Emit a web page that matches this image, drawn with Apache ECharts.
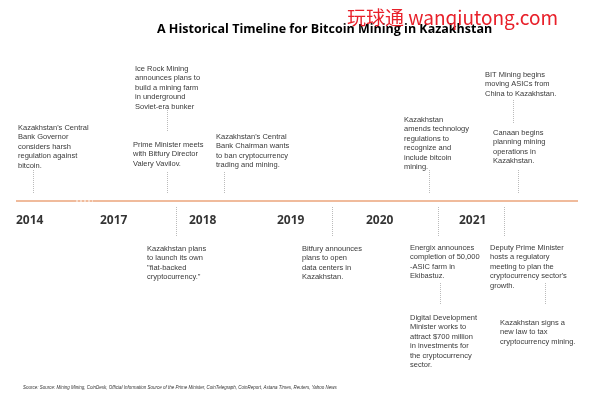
<!DOCTYPE html>
<html>
<head>
<meta charset="utf-8">
<script src="https://cdn.jsdelivr.net/npm/echarts@6/dist/echarts.min.js"></script>
<style>html,body{margin:0;padding:0;background:#fff}#main{width:600px;height:400px}</style>
</head>
<body>
<div id="main"></div>
<script>
// layout units: page-like grid 600 x 400
var years = ['2014', '2017', '2018', '2019', '2020', '2021'];
var yearX = [16, 100, 189, 277, 366, 459];
var separatorX = [176, 332, 438, 504];

var eventText = [
  "Kazakhstan's Central\nBank Governor\nconsiders harsh\nregulation against\nbitcoin.",
  "Ice Rock Mining\nannounces plans to\nbuild a mining farm\nin underground\nSoviet-era bunker",
  "Prime Minister meets\nwith Bitfury Director\nValery Vavilov.",
  "Kazakhstan's Central\nBank Chairman wants\nto ban cryptocurrency\ntrading and mining.",
  "Kazakhstan\namends technology\nregulations to\nrecognize and\ninclude bitcoin\nmining.",
  "BIT Mining begins\nmoving ASICs from\nChina to Kazakhstan.",
  "Canaan begins\nplanning mining\noperations in\nKazakhstan.",
  "Kazakhstan plans\nto launch its own\n\"fiat-backed\ncryptocurrency.\"",
  "Bitfury announces\nplans to open\ndata centers in\nKazakhstan.",
  "Energix announces\ncompletion of 50,000\n-ASIC farm in\nEkibastuz.",
  "Digital Development\nMinister works to\nattract $700 million\nin investments for\nthe cryptocurrency\nsector.",
  "Deputy Prime Minister\nhosts a regulatory\nmeeting to plan the\ncryptocurrency sector's\ngrowth.",
  "Kazakhstan signs a\nnew law to tax\ncryptocurrency mining."
];
var eventX = [18, 135, 133, 216, 404, 485, 493, 147, 302, 410, 410, 490, 500];
var eventY = [123, 64, 140, 132, 115, 70, 128, 244, 244, 243, 313, 243, 318];

// connectors: [x, y1, y2]
var connectors = [
  [33, 170, 193], [167, 108, 132], [167, 172, 194], [224, 172, 193],
  [429, 170, 193], [513, 100, 123], [518, 170, 193],
  [440, 283, 305], [545, 283, 305]
];

var chart = echarts.init(document.getElementById('main'));
var txtFont = 'Liberation Sans';

var lineData = [];
connectors.forEach(function (c) {
  lineData.push({coords: [[c[0], c[1]], [c[0], c[2]]], lineStyle: {color: '#777', type: [1, 1], width: 1}});
});
separatorX.forEach(function (x) {
  lineData.push({coords: [[x, 207], [x, 236]], lineStyle: {color: '#777', type: [1, 1], width: 1}});
});
lineData.push({coords: [[16, 201], [578, 201]], lineStyle: {color: '#E2773A', width: 2, type: 'solid'}});
lineData.push({coords: [[76, 201], [93, 201]], lineStyle: {color: '#fff', width: 2, type: [2, 2]}});

chart.setOption({
  animation: false,
  title: [
    {text: 'A Historical Timeline for Bitcoin Mining in Kazakhstan', left: 152, top: 18,
     textStyle: {fontFamily: 'Open Sans', fontSize: 12.5, fontWeight: 'bold', color: '#000'}},
    {text: '玩球通 wanqiutong.com', left: 342, top: 3,
     textStyle: {fontFamily: 'Noto Sans CJK SC', fontSize: 19, fontWeight: 'normal', color: '#E8202A'}},
    {text: 'Source: Source: Mining Mining, CoinDesk, Official Information Source of the Prime Minister, CoinTelegraph, CoinReport, Astana Times, Reuters, Yahoo News',
     left: 18, top: 380, textStyle: {fontFamily: txtFont, fontSize: 4.5, fontStyle: 'italic', fontWeight: 'normal', color: '#333'}}
  ],
  grid: {left: 0, right: 0, top: 0, bottom: 0},
  xAxis: {type: 'value', min: 0, max: 600, show: false},
  yAxis: {type: 'value', min: 0, max: 400, inverse: true, show: false},
  series: [
    {type: 'lines', coordinateSystem: 'cartesian2d', polyline: false, data: lineData, silent: true},
    {type: 'scatter', symbolSize: 0, silent: true,
     data: years.map(function (y, i) { return {value: [yearX[i], 221], name: y}; }),
     label: {show: true, position: 'right', distance: 0, formatter: '{b}',
             fontFamily: 'Open Sans', fontWeight: 'bold', fontSize: 12, color: '#000'}},
    {type: 'scatter', symbolSize: 0, silent: true,
     data: eventText.map(function (t, i) { return {value: [eventX[i], eventY[i]], name: t}; }),
     label: {show: true, position: 'insideTopLeft', distance: 0, formatter: '{b}',
             align: 'left', verticalAlign: 'top',
             fontFamily: txtFont, fontSize: 7.5, lineHeight: 9.5, color: '#000'}}
  ]
});
</script>
</body>
</html>
